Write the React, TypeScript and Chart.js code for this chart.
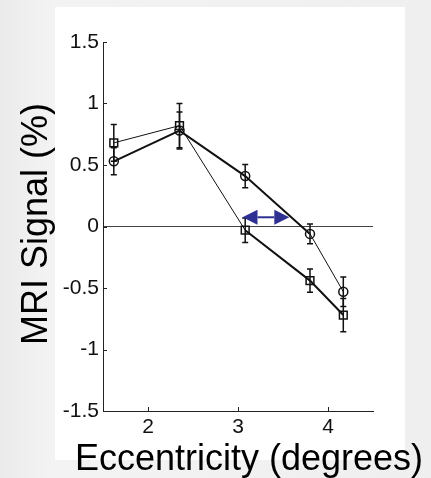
import React, { useEffect, useRef } from "react";
import { Chart, registerables } from "chart.js";

Chart.register(...registerables);

// ---- data ----
const eccentricity = [1.62, 2.35, 3.08, 3.8, 4.17];
const circleSignal = [0.53, 0.78, 0.41, -0.06, -0.53];
const circleError = [0.11, 0.15, 0.095, 0.08, 0.12];
const squareSignal = [0.68, 0.82, -0.03, -0.44, -0.72];
const squareError = [0.15, 0.18, 0.1, 0.095, 0.135];
const xTicks = [2, 3, 4];
const xTickLabels = ["2", "3", "4"];
const yTicks = [-1.5, -1, -0.5, 0, 0.5, 1, 1.5];
const yTickLabels = ["-1.5", "-1", "-0.5", "0", "0.5", "1", "1.5"];
const arrowRange = [3.05, 3.57];
const arrowLevel = [0.075];
const xTitle = "Eccentricity (degrees)";
const yTitle = "MRI Signal (%)";

// ---- styles ----
const circleSegWidths = [2, 2, 2, 1];
const squareSegWidths = [1, 1, 2, 2];
const FONT = "'Liberation Sans', Arial, Helvetica, sans-serif";
const INK = "#111";

const errorBarPlugin = {
  id: "errorBars",
  beforeDatasetsDraw(chart: any) {
    const ctx = chart.ctx;
    const ys = chart.scales.y;
    const errs = [circleError, squareError];
    const vals = [circleSignal, squareSignal];
    ctx.save();
    ctx.strokeStyle = INK;
    ctx.lineWidth = 1.5;
    chart.data.datasets.forEach((_: any, di: number) => {
      const meta = chart.getDatasetMeta(di);
      meta.data.forEach((pt: any, j: number) => {
        const x = pt.x;
        const yt = ys.getPixelForValue(vals[di][j] + errs[di][j]);
        const yb = ys.getPixelForValue(vals[di][j] - errs[di][j]);
        ctx.beginPath();
        ctx.moveTo(x, yt);
        ctx.lineTo(x, yb);
        ctx.moveTo(x - 3, yt);
        ctx.lineTo(x + 3, yt);
        ctx.moveTo(x - 3, yb);
        ctx.lineTo(x + 3, yb);
        ctx.stroke();
      });
    });
    ctx.restore();
  },
};

const arrowPlugin = {
  id: "arrow",
  afterDatasetsDraw(chart: any) {
    const ctx = chart.ctx;
    const xs = chart.scales.x;
    const ys = chart.scales.y;
    const x0 = xs.getPixelForValue(arrowRange[0]);
    const x1 = xs.getPixelForValue(arrowRange[1]);
    const y = ys.getPixelForValue(arrowLevel[0]);
    const hl = 15;
    const hh = 7.5;
    ctx.save();
    ctx.fillStyle = "#2e3192";
    ctx.strokeStyle = "#2e3192";
    ctx.lineWidth = 2;
    ctx.beginPath();
    ctx.moveTo(x0 + hl, y);
    ctx.lineTo(x1 - hl, y);
    ctx.stroke();
    ctx.beginPath();
    ctx.moveTo(x0, y);
    ctx.lineTo(x0 + hl, y - hh);
    ctx.lineTo(x0 + hl, y + hh);
    ctx.closePath();
    ctx.fill();
    ctx.beginPath();
    ctx.moveTo(x1, y);
    ctx.lineTo(x1 - hl, y - hh);
    ctx.lineTo(x1 - hl, y + hh);
    ctx.closePath();
    ctx.fill();
    ctx.restore();
  },
};

const axesDecorPlugin = {
  id: "axesDecor",
  afterDraw(chart: any) {
    const ctx = chart.ctx;
    const { left, bottom } = chart.chartArea;
    const xs = chart.scales.x;
    const ys = chart.scales.y;
    ctx.save();
    ctx.strokeStyle = "#222";
    ctx.lineWidth = 1;
    ctx.beginPath();
    yTicks.forEach((v) => {
      const y = Math.round(ys.getPixelForValue(v)) + 0.5;
      ctx.moveTo(left, y);
      ctx.lineTo(left + 4, y);
    });
    xTicks.forEach((v) => {
      const x = Math.round(xs.getPixelForValue(v)) + 0.5;
      ctx.moveTo(x, bottom);
      ctx.lineTo(x, bottom - 4);
    });
    ctx.stroke();

    ctx.fillStyle = "#000";
    ctx.font = `36px ${FONT}`;
    ctx.textAlign = "center";
    ctx.textBaseline = "alphabetic";
    ctx.fillText(xTitle, 249, 470);
    ctx.translate(47, 224);
    ctx.rotate(-Math.PI / 2);
    ctx.fillText(yTitle, 0, 0);
    ctx.restore();
  },
};

export default function App() {
  const ref = useRef<HTMLCanvasElement>(null);

  useEffect(() => {
    if (!ref.current) return;
    const mk = (ys: number[]) => eccentricity.map((x, i) => ({ x, y: ys[i] }));
    const chart = new Chart(ref.current, {
      type: "line",
      data: {
        datasets: [
          {
            data: mk(circleSignal),
            borderColor: INK,
            borderWidth: 2,
            pointStyle: "circle",
            pointRadius: 4.5,
            pointBorderWidth: 1.5,
            pointBackgroundColor: "rgba(0,0,0,0)",
            pointBorderColor: INK,
            segment: { borderWidth: (c: any) => circleSegWidths[c.p0DataIndex] },
          },
          {
            data: mk(squareSignal),
            borderColor: INK,
            borderWidth: 2,
            pointStyle: "rect",
            pointRadius: 5.5,
            pointBorderWidth: 1.5,
            pointBackgroundColor: "rgba(0,0,0,0)",
            pointBorderColor: INK,
            segment: { borderWidth: (c: any) => squareSegWidths[c.p0DataIndex] },
          },
        ],
      },
      options: {
        responsive: false,
        animation: false,
        layout: { padding: { left: 0, right: 58, top: 42, bottom: 0 } },
        plugins: { legend: { display: false }, tooltip: { enabled: false } },
        scales: {
          x: {
            type: "linear",
            min: 1.5,
            max: 4.5,
            afterFit: (s: any) => {
              s.height = 67;
            },
            afterBuildTicks: (s: any) => {
              s.ticks = xTicks.map((v) => ({ value: v }));
            },
            ticks: {
              padding: 4,
              color: INK,
              font: { family: FONT, size: 21 },
              callback: (v: any) => xTickLabels[xTicks.indexOf(Number(v))] ?? "",
            },
            grid: { display: false, drawTicks: false },
            border: { display: true, color: "#222", width: 1 },
          },
          y: {
            type: "linear",
            min: -1.5,
            max: 1.5,
            afterFit: (s: any) => {
              s.width = 103;
            },
            afterBuildTicks: (s: any) => {
              s.ticks = yTicks.map((v) => ({ value: v }));
            },
            ticks: {
              padding: 4,
              color: INK,
              font: { family: FONT, size: 21 },
              callback: (v: any) => yTickLabels[yTicks.indexOf(Number(v))] ?? "",
            },
            grid: {
              drawTicks: false,
              color: (c: any) => (c.tick && c.tick.value === 0 ? "#444" : "rgba(0,0,0,0)"),
              lineWidth: 1,
            },
            border: { display: true, color: "#222", width: 1 },
          },
        },
      },
      plugins: [errorBarPlugin, arrowPlugin, axesDecorPlugin],
    } as any);
    return () => chart.destroy();
  }, []);

  return (
    <div
      style={{
        position: "fixed",
        left: 0,
        top: 0,
        width: 431,
        height: 478,
        background: "linear-gradient(90deg, #ebebeb 0%, #f3f3f3 12%, #efefef 100%)",
        overflow: "hidden",
      }}
    >
      <div
        style={{
          position: "absolute",
          left: 55,
          top: 7,
          width: 350,
          height: 453,
          background: "#ffffff",
        }}
      />
      <canvas
        ref={ref}
        width={431}
        height={478}
        style={{ position: "absolute", left: 0, top: 0, width: 431, height: 478 }}
      />
    </div>
  );
}
